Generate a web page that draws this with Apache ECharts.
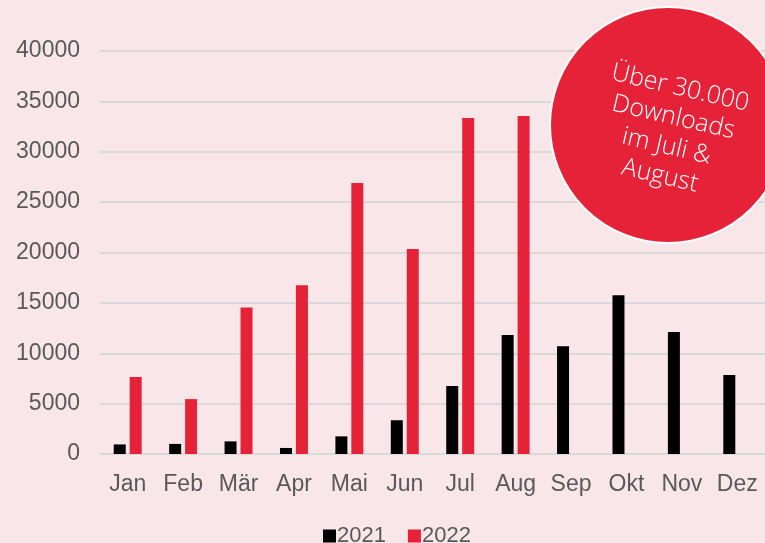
<!DOCTYPE html>
<html>
<head>
<meta charset="utf-8">
<script src="https://cdn.jsdelivr.net/npm/echarts@6/dist/echarts.min.js"></script>
<style>
    html, body { margin: 0; padding: 0; background: #f9e6e8; }
    #chart { width: 765px; height: 543px; }
</style>
</head>
<body>
<div id="chart"></div>
<script>
// Monatsdaten
const months = ['Jan', 'Feb', 'Mär', 'Apr', 'Mai', 'Jun', 'Jul', 'Aug', 'Sep', 'Okt', 'Nov', 'Dez'];
const downloads2021 = [950, 1000, 1250, 600, 1750, 3350, 6750, 11800, 10700, 15750, 12100, 7850];
const downloads2022 = [7650, 5450, 14550, 16750, 26900, 20350, 33350, 33550, null, null, null, null];
const yTicks = [0, 5000, 10000, 15000, 20000, 25000, 30000, 35000, 40000];
const bubbleText = 'Über 30.000\nDownloads\nim Juli &\nAugust';

const myChart = echarts.init(document.getElementById('chart'));

const option = {
    backgroundColor: '#f9e6e8',
    textStyle: { fontFamily: 'Liberation Sans' },
    grid: {
        left: 100,
        right: 0,
        top: 51,
        bottom: 89
    },
    legend: {
        top: 520,
        left: 318,
        itemWidth: 13,
        itemHeight: 13,
        itemGap: 22,
        icon: 'rect',
        textStyle: { fontSize: 22, color: '#595959', padding: [0, 0, 0, -4] },
        data: ['2021', '2022']
    },
    xAxis: {
        type: 'category',
        data: months,
        axisLine: { show: false },
        axisTick: { show: false },
        axisLabel: { fontSize: 23, color: '#595959', margin: 19 }
    },
    yAxis: {
        type: 'value',
        min: yTicks[0],
        max: yTicks[yTicks.length - 1],
        interval: yTicks[1] - yTicks[0],
        axisLine: { show: false },
        axisTick: { show: false },
        axisLabel: {
            fontSize: 23,
            color: '#595959',
            margin: 20,
            formatter: function (v) { return String(v); }
        },
        splitLine: { lineStyle: { color: '#d9d9d9', width: 2 } }
    },
    series: [
        {
            name: '2021',
            type: 'bar',
            data: downloads2021,
            barWidth: 12,
            barGap: '33%',
            itemStyle: { color: '#000000' }
        },
        {
            name: '2022',
            type: 'bar',
            data: downloads2022,
            barWidth: 12,
            itemStyle: { color: '#e52238' }
        }
    ],
    graphic: [
        {
            type: 'circle',
            shape: { cx: 668, cy: 125, r: 118 },
            style: { fill: '#e52238', stroke: '#ffffff', lineWidth: 2 },
            z: 10
        },
        {
            type: 'text',
            x: 670,
            y: 132,
            rotation: -13 * Math.PI / 180,
            style: {
                text: bubbleText,
                fill: '#ffffff',
                font: '300 25px "Open Sans"',
                align: 'center',
                verticalAlign: 'middle',
                lineHeight: 30
            },
            z: 11
        }
    ]
};

myChart.setOption(option);

window.addEventListener('resize', function () {
    myChart.resize();
});
</script>
</body>
</html>
